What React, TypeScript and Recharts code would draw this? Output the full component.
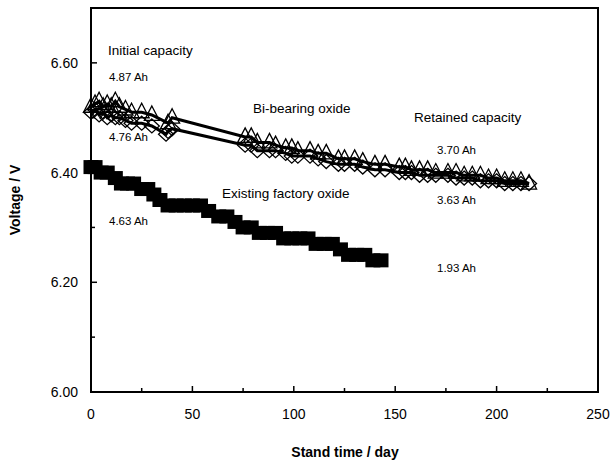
import React from 'react';
import {
  ScatterChart,
  Scatter,
  XAxis,
  YAxis,
  ReferenceArea,
} from 'recharts';

// Existing factory oxide (filled squares)
const factoryDays = [0, 2, 5, 8, 12, 15, 18, 21, 25, 28, 31, 34, 38, 42, 46, 50, 54, 58, 63, 67, 71, 75, 79, 83, 87, 91, 95, 99, 103, 107, 111, 115, 119, 123, 127, 131, 135, 139, 143];
const factoryVolts = [6.41, 6.41, 6.40, 6.40, 6.39, 6.38, 6.38, 6.38, 6.37, 6.37, 6.36, 6.35, 6.34, 6.34, 6.34, 6.34, 6.34, 6.33, 6.32, 6.32, 6.31, 6.30, 6.30, 6.29, 6.29, 6.29, 6.28, 6.28, 6.28, 6.28, 6.27, 6.27, 6.27, 6.26, 6.25, 6.25, 6.25, 6.24, 6.24];

// Bi-bearing oxide, cell A (open triangles)
const triDays = [0, 2, 4, 6, 8, 10, 12, 14, 17, 20, 25, 30, 38, 40, 76, 79, 82, 88, 91, 96, 99, 102, 108, 112, 116, 122, 125, 130, 134, 140, 145, 152, 155, 158, 162, 166, 170, 176, 180, 184, 188, 192, 196, 200, 204, 208, 212, 216];
const triVolts = [6.52, 6.525, 6.53, 6.52, 6.525, 6.52, 6.53, 6.52, 6.515, 6.51, 6.51, 6.505, 6.49, 6.50, 6.465, 6.465, 6.455, 6.455, 6.45, 6.445, 6.445, 6.44, 6.44, 6.435, 6.435, 6.425, 6.425, 6.425, 6.42, 6.415, 6.415, 6.41, 6.41, 6.405, 6.405, 6.405, 6.40, 6.40, 6.40, 6.395, 6.395, 6.395, 6.39, 6.39, 6.385, 6.385, 6.385, 6.38];

// Bi-bearing oxide, cell B (open diamonds)
const diaDays = [0, 2, 4, 6, 8, 10, 12, 14, 17, 20, 25, 30, 37, 38, 40, 76, 79, 82, 88, 91, 96, 99, 102, 108, 112, 116, 122, 125, 130, 134, 140, 145, 152, 155, 158, 162, 166, 170, 176, 180, 184, 188, 192, 196, 200, 204, 208, 212, 216];
const diaVolts = [6.51, 6.515, 6.505, 6.51, 6.50, 6.505, 6.50, 6.50, 6.495, 6.49, 6.49, 6.485, 6.47, 6.475, 6.48, 6.45, 6.45, 6.44, 6.44, 6.44, 6.435, 6.43, 6.43, 6.43, 6.425, 6.42, 6.415, 6.415, 6.415, 6.41, 6.405, 6.405, 6.40, 6.40, 6.40, 6.395, 6.395, 6.395, 6.395, 6.39, 6.39, 6.39, 6.385, 6.385, 6.385, 6.38, 6.38, 6.38, 6.38];

const xTicks = [0, 25, 50, 75, 100, 125, 150, 175, 200, 225, 250];
const yTicks = [6.0, 6.1, 6.2, 6.3, 6.4, 6.5, 6.6];

const toPoints = (days: number[], volts: number[]) =>
  days.map((d, i) => ({ day: d, v: volts[i] }));

const factoryData = toPoints(factoryDays, factoryVolts);
const triData = toPoints(triDays, triVolts);
const diaData = toPoints(diaDays, diaVolts);

const FONT = 'Liberation Sans, Arial, sans-serif';
const X_MARGIN = 16;
const Y_MARGIN = 13;

const SquareShape = (props: any) => {
  const { cx, cy } = props;
  return <rect x={cx - 7.5} y={cy - 7} width={15} height={14} fill="#000" />;
};

const TriangleShape = (props: any) => {
  const { cx, cy } = props;
  return (
    <path
      d={`M${cx},${cy - 9} L${cx + 7.5},${cy + 5.5} L${cx - 7.5},${cy + 5.5} Z`}
      fill="none"
      stroke="#000"
      strokeWidth={1.3}
    />
  );
};

const DiamondShape = (props: any) => {
  const { cx, cy } = props;
  return (
    <path
      d={`M${cx},${cy - 7} L${cx + 7.5},${cy} L${cx},${cy + 7} L${cx - 7.5},${cy} Z`}
      fill="none"
      stroke="#000"
      strokeWidth={1.3}
    />
  );
};

const XTick = (props: any) => {
  const { x, y, payload } = props;
  const major = payload.value % 50 === 0;
  const axisY = y - X_MARGIN;
  return (
    <g>
      <line x1={x} y1={axisY} x2={x} y2={axisY - (major ? 6 : 4)} stroke="#000" strokeWidth={1.5} />
      {major && (
        <text x={x} y={y} dy="0.75em" textAnchor="middle" fontSize={14} fontFamily={FONT} fill="#000">
          {payload.value}
        </text>
      )}
    </g>
  );
};

const YTick = (props: any) => {
  const { x, y, payload } = props;
  const major = Math.round(payload.value * 10) % 2 === 0;
  const axisX = x + Y_MARGIN;
  return (
    <g>
      <line x1={axisX} y1={y} x2={axisX + (major ? 6 : 4)} y2={y} stroke="#000" strokeWidth={1.5} />
      {major && (
        <text x={x} y={y} dy="0.36em" textAnchor="end" fontSize={14} fontFamily={FONT} fill="#000">
          {payload.value.toFixed(2)}
        </text>
      )}
    </g>
  );
};

const notes = [
  { text: 'Initial capacity', x: 108, y: 55, size: 13.5 },
  { text: '4.87 Ah', x: 109, y: 81, size: 11.5 },
  { text: '4.76 Ah', x: 109, y: 141, size: 11.5 },
  { text: 'Bi-bearing oxide', x: 253, y: 113, size: 13.5 },
  { text: 'Retained capacity', x: 414, y: 122, size: 13.5 },
  { text: '3.70 Ah', x: 437, y: 154, size: 11.5 },
  { text: '3.63 Ah', x: 437, y: 204, size: 11.5 },
  { text: 'Existing factory oxide', x: 222, y: 198, size: 13.5 },
  { text: '4.63 Ah', x: 109, y: 225, size: 11.5 },
  { text: '1.93 Ah', x: 437, y: 272, size: 11.5 },
];

export default function App() {
  return (
    <div style={{ position: 'absolute', left: 0, top: 0, width: 611, height: 464, background: '#fff' }}>
      <ScatterChart
        width={611}
        height={464}
        margin={{ top: 8, right: 13, bottom: 32, left: 31 }}
      >
        <XAxis
          type="number"
          dataKey="day"
          domain={[0, 250]}
          ticks={xTicks}
          tick={<XTick />}
          tickSize={0}
          tickMargin={X_MARGIN}
          axisLine={false}
          tickLine={false}
          height={40}
          interval={0}
        />
        <YAxis
          type="number"
          dataKey="v"
          domain={[6.0, 6.7]}
          ticks={yTicks}
          tick={<YTick />}
          tickSize={0}
          tickMargin={Y_MARGIN}
          axisLine={false}
          tickLine={false}
          width={60}
          interval={0}
          allowDataOverflow
        />
        <ReferenceArea
          x1={0}
          x2={250}
          y1={6.0}
          y2={6.7}
          fill="none"
          stroke="#000"
          strokeWidth={2}
          ifOverflow="visible"
        />
        <Scatter
          data={triData}
          line={{ stroke: '#000', strokeWidth: 3 }}
          shape={TriangleShape}
          isAnimationActive={false}
        />
        <Scatter
          data={diaData}
          line={{ stroke: '#000', strokeWidth: 3 }}
          shape={DiamondShape}
          isAnimationActive={false}
        />
        <Scatter
          data={factoryData}
          shape={SquareShape}
          isAnimationActive={false}
        />
      </ScatterChart>
      <svg
        width={611}
        height={464}
        style={{ position: 'absolute', left: 0, top: 0, pointerEvents: 'none' }}
      >
        {notes.map((n, i) => (
          <text key={i} x={n.x} y={n.y} fontSize={n.size} fontFamily={FONT} fill="#000">
            {n.text}
          </text>
        ))}
        <text
          x={345}
          y={457}
          textAnchor="middle"
          fontSize={14}
          fontWeight="bold"
          fontFamily={FONT}
          fill="#000"
        >
          Stand time / day
        </text>
        <text
          x={20}
          y={200}
          textAnchor="middle"
          fontSize={14}
          fontWeight="bold"
          fontFamily={FONT}
          fill="#000"
          transform="rotate(-90 20 200)"
        >
          Voltage / V
        </text>
      </svg>
    </div>
  );
}
